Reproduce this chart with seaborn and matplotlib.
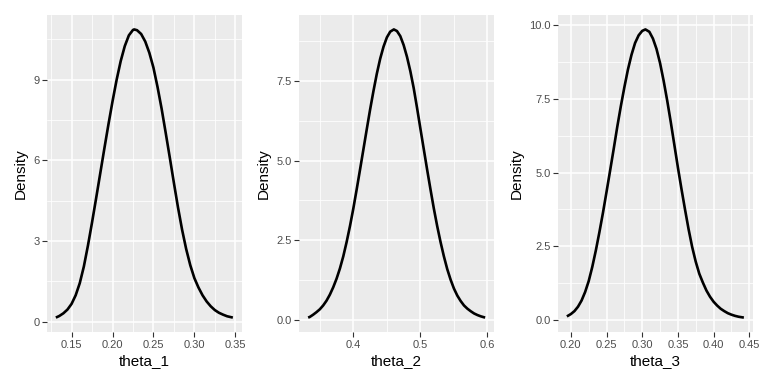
import matplotlib
matplotlib.use("Agg")
import matplotlib.pyplot as plt
import matplotlib.ticker as mticker
import seaborn as sns
import pandas as pd

# density curves
theta_1_x = [0.1308, 0.135, 0.140, 0.145, 0.150, 0.155, 0.160, 0.165, 0.170, 0.175,
             0.180, 0.185, 0.190, 0.195, 0.200, 0.205, 0.210, 0.215, 0.220, 0.225,
             0.2265, 0.230, 0.235, 0.240, 0.245, 0.250, 0.255, 0.260, 0.265, 0.270,
             0.275, 0.280, 0.285, 0.290, 0.295, 0.300, 0.305, 0.310, 0.315, 0.320,
             0.325, 0.330, 0.335, 0.340, 0.347]
theta_1_y = [0.15, 0.21, 0.31, 0.45, 0.66, 0.98, 1.43, 2.05, 2.83, 3.69,
             4.59, 5.51, 6.43, 7.33, 8.19, 8.99, 9.69, 10.25, 10.65, 10.85,
             10.87, 10.84, 10.70, 10.42, 10.00, 9.45, 8.73, 7.92, 7.02, 6.10,
             5.16, 4.25, 3.42, 2.70, 2.10, 1.62, 1.27, 0.98, 0.75, 0.57,
             0.43, 0.33, 0.26, 0.20, 0.15]

theta_2_x = [0.3326, 0.335, 0.340, 0.345, 0.350, 0.355, 0.360, 0.365, 0.370, 0.375,
             0.380, 0.385, 0.390, 0.395, 0.400, 0.405, 0.410, 0.415, 0.420, 0.425,
             0.430, 0.435, 0.440, 0.445, 0.450, 0.455, 0.4604, 0.465, 0.470, 0.475,
             0.480, 0.485, 0.490, 0.495, 0.500, 0.505, 0.510, 0.515, 0.520, 0.525,
             0.530, 0.535, 0.540, 0.545, 0.550, 0.555, 0.560, 0.565, 0.570, 0.575,
             0.580, 0.585, 0.590, 0.5965]
theta_2_y = [0.08, 0.10, 0.17, 0.25, 0.34, 0.46, 0.61, 0.80, 1.03, 1.30,
             1.62, 2.00, 2.45, 2.95, 3.50, 4.10, 4.72, 5.35, 5.98, 6.60,
             7.18, 7.72, 8.19, 8.57, 8.86, 9.04, 9.11, 9.06, 8.90, 8.62,
             8.25, 7.80, 7.27, 6.65, 6.00, 5.36, 4.72, 4.10, 3.50, 2.95,
             2.45, 2.00, 1.60, 1.27, 0.99, 0.77, 0.60, 0.46, 0.36, 0.28,
             0.21, 0.16, 0.12, 0.08]

theta_3_x = [0.1944, 0.200, 0.205, 0.210, 0.215, 0.220, 0.225, 0.230, 0.235, 0.240,
             0.245, 0.250, 0.255, 0.260, 0.265, 0.270, 0.275, 0.280, 0.285, 0.290,
             0.295, 0.300, 0.3045, 0.310, 0.315, 0.320, 0.325, 0.330, 0.335, 0.340,
             0.345, 0.350, 0.355, 0.360, 0.365, 0.370, 0.375, 0.380, 0.385, 0.390,
             0.395, 0.400, 0.405, 0.410, 0.415, 0.420, 0.425, 0.430, 0.435, 0.4425]
theta_3_y = [0.12, 0.20, 0.30, 0.45, 0.66, 0.95, 1.32, 1.80, 2.36, 2.98,
             3.64, 4.35, 5.07, 5.80, 6.55, 7.25, 7.90, 8.50, 9.00, 9.40,
             9.66, 9.81, 9.86, 9.78, 9.55, 9.20, 8.72, 8.12, 7.45, 6.72,
             5.95, 5.18, 4.45, 3.75, 3.08, 2.48, 1.98, 1.57, 1.27, 1.00,
             0.79, 0.62, 0.49, 0.38, 0.30, 0.23, 0.18, 0.14, 0.11, 0.08]

x_ticks = [[0.15, 0.20, 0.25, 0.30, 0.35], [0.4, 0.5, 0.6], [0.20, 0.25, 0.30, 0.35, 0.40, 0.45]]
y_ticks = [[0, 3, 6, 9], [0.0, 2.5, 5.0, 7.5], [0.0, 2.5, 5.0, 7.5, 10.0]]
x_fmt = ["%.2f", "%.1f", "%.2f"]
y_fmt = ["%d", "%.1f", "%.1f"]
names = ["theta_1", "theta_2", "theta_3"]

sns.set_theme(style="darkgrid", rc={
    "axes.facecolor": "#EBEBEB",
    "grid.color": "white",
    "axes.edgecolor": "#EBEBEB",
    "xtick.bottom": True,
    "ytick.left": True,
    "xtick.color": "#333333",
    "ytick.color": "#333333",
    "xtick.major.size": 3.5,
    "ytick.major.size": 3.5,
    "xtick.major.width": 0.8,
    "ytick.major.width": 0.8,
    "xtick.major.pad": 2,
    "ytick.major.pad": 2,
})
plt.rcParams["font.family"] = ["Liberation Sans", "DejaVu Sans"]

fig = plt.figure(figsize=(7.68, 3.84), dpi=100)
lefts = [0.0612, 0.3897, 0.7266]

curves = [(theta_1_x, theta_1_y), (theta_2_x, theta_2_y), (theta_3_x, theta_3_y)]
for i, (xs, ys) in enumerate(curves):
    ax = fig.add_axes([lefts[i], 0.1354, 0.2535, 0.8255])
    df = pd.DataFrame({"x": xs, "y": ys})
    sns.lineplot(data=df, x="x", y="y", ax=ax, color="black", lw=1.9,
                 sort=False, solid_joinstyle="round", solid_capstyle="butt")

    # ggplot-like 5% expansion
    xr = max(xs) - min(xs)
    yr = max(ys) - min(ys)
    ax.set_xlim(min(xs) - 0.05 * xr, max(xs) + 0.05 * xr)
    ax.set_ylim(min(ys) - 0.05 * yr, max(ys) + 0.05 * yr)

    xt = x_ticks[i]
    yt = y_ticks[i]
    ax.xaxis.set_major_locator(mticker.FixedLocator(xt))
    ax.yaxis.set_major_locator(mticker.FixedLocator(yt))
    dx = xt[1] - xt[0]
    dy = yt[1] - yt[0]
    ax.xaxis.set_minor_locator(mticker.FixedLocator([xt[0] - dx / 2] + [v + dx / 2 for v in xt]))
    ax.yaxis.set_minor_locator(mticker.FixedLocator([v + dy / 2 for v in yt]))
    ax.xaxis.set_major_formatter(mticker.FormatStrFormatter(x_fmt[i]))
    ax.yaxis.set_major_formatter(mticker.FormatStrFormatter(y_fmt[i]))
    ax.tick_params(which="minor", length=0)
    ax.tick_params(which="major", labelsize=8, labelcolor="#4D4D4D")
    ax.grid(which="major", color="white", lw=1.1)
    ax.grid(which="minor", color="white", lw=0.55)
    for s in ax.spines.values():
        s.set_visible(False)

    ax.set_xlabel(names[i], fontsize=11, color="black", labelpad=3)
    ax.set_ylabel("Density", fontsize=11, color="black", labelpad=4)

fig.savefig("out.png", dpi=100)
